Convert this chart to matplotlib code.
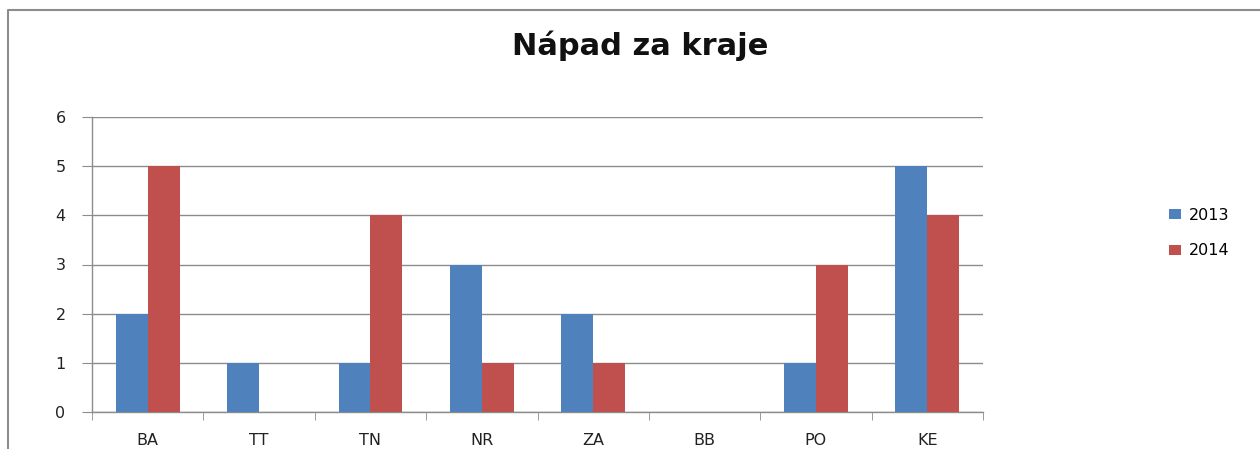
import matplotlib
matplotlib.use("Agg")
import matplotlib.pyplot as plt
import numpy as np
from matplotlib.lines import Line2D
from matplotlib.patches import Patch

categories = ["BA", "TT", "TN", "NR", "ZA", "BB", "PO", "KE"]
series_names = ["2013", "2014"]
values_2013 = [2, 1, 1, 3, 2, 0, 1, 5]
values_2014 = [5, 0, 4, 1, 1, 0, 3, 4]
colors = ["#4F81BD", "#C0504D"]
title = "Nápad za kraje"

plt.rcParams['font.family'] = ['DejaVu Sans']
fig = plt.figure(figsize=(12.6, 4.49), dpi=100)
W, H = 1260, 449
ax = fig.add_axes([92 / W, 1 - 412 / H, (983 - 92) / W, (412 - 117) / H])

x = np.arange(len(categories))
bw = 1 / 3.5
ax.bar(x - bw / 2, values_2013, width=bw, color=colors[0], label=series_names[0], zorder=3)
ax.bar(x + bw / 2, values_2014, width=bw, color=colors[1], label=series_names[1], zorder=3)

ax.set_xlim(-0.5, len(categories) - 0.5)
ax.set_ylim(0, 6)
ax.set_yticks(range(0, 7))
ax.yaxis.grid(True, color="#8c8c8c", lw=1.0, zorder=0)
ax.set_axisbelow(True)

for s in ["top", "right"]:
    ax.spines[s].set_visible(False)
for s in ["left", "bottom"]:
    ax.spines[s].set_color("#8c8c8c")
    ax.spines[s].set_linewidth(1.0)

ax.set_xticks(x)
ax.set_xticklabels(categories)
ax.set_xticks(np.arange(-0.5, len(categories), 1.0), minor=True)
ax.tick_params(axis="x", which="major", length=0, pad=15, labelsize=11.5, labelcolor="#222222")
ax.tick_params(axis="x", which="minor", length=6, color="#8c8c8c", direction="out")
ax.tick_params(axis="y", length=7, color="#8c8c8c", pad=12, labelsize=11.5, labelcolor="#222222")

fig.text(0.508, 1 - 55 / H, title, ha="center", va="baseline", fontsize=22, fontweight="bold", color="#111111")

handles = [Patch(facecolor=colors[0]), Patch(facecolor=colors[1])]
fig.legend(handles, series_names, loc="center left", bbox_to_anchor=(1163 / W, 1 - 233 / H),
           frameon=False, fontsize=11.5, handlelength=0.75, handleheight=0.55, handletextpad=0.5,
           labelspacing=1.3, borderaxespad=0.0)

# outer chart border (left and top only visible)
fig.add_artist(Line2D([8 / W, 8 / W, 1.0], [0.0, 1 - 10 / H, 1 - 10 / H],
                      transform=fig.transFigure, color="#8c8c8c", lw=1.5))

fig.savefig("out.png", dpi=100)
